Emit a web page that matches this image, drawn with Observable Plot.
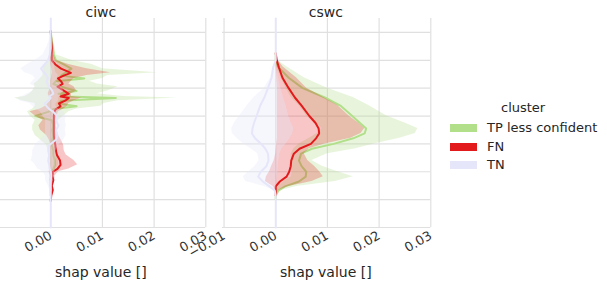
<!DOCTYPE html>
<html><head><meta charset="utf-8">
<script src="https://cdn.jsdelivr.net/npm/d3@7"></script>
<script src="https://cdn.jsdelivr.net/npm/@observablehq/plot@0.6"></script>
<style>
html,body{margin:0;padding:0;background:#fff;overflow:hidden}
#fig{position:relative;width:607px;height:283px;font-family:"DejaVu Sans",sans-serif;color:#262626;overflow:hidden}
.panel{position:absolute;top:0}
.t{position:absolute;white-space:nowrap;transform:translateX(-50%);line-height:1}
.lg{position:absolute;white-space:nowrap;line-height:1;font-size:13px}
.sw{position:absolute;width:27px;height:8px}
</style></head><body><div id="fig"></div>
<script>
// ---- categories / styling of clusters ----
const clusterNames = ["TP less confident", "FN", "TN"];
const clusterColors = ["#b2df8a", "#e31a1c", "#e6e6fa"];
const panelTitles = ["ciwc", "cswc"];
const xTicks = [-0.01, 0, 0.01, 0.02, 0.03];
const yTicks = [0, 2, 4, 6, 8, 10, 12, 14];

// ---- ciwc panel (values in units of 1e-3) ----
const ciwcLevels = [15, 14.1, 13.4, 12.9, 12.4, 12.0, 11.7, 11.4, 11.1, 10.9, 10.7, 10.5, 10.3, 10.1, 9.8, 9.6, 9.4, 9.3, 9.1, 8.9, 8.7, 8.5, 8.3, 8.0, 7.7, 7.3, 7.0, 6.6, 6.3, 5.9, 5.5, 5.2, 4.8, 4.5, 4.2, 4.0, 3.7, 3.4, 3.0, 2.7, 2.3, 1.9, 0];
const ciwcTPmed = [0, 0,0.2,0.4,0.6,1.0,2.5,4.0,2.8,2.0,6.5, 1.0,0.5,2.0,5.0,1.5,3.0,12.6,2.0,1.5,5.0, 0.5,-0.5,-3.0,0.2,0.5,0.3,0.5,0.3,0.2,0.5, 0.5,0.8,0.8,0.5,0.2,0.1,0.1,0,0,0, 0, 0];
const ciwcTPlo  = [0, 0,-0.1,-0.2,-0.2,-0.5,-1.0,-1.5,-1.5,-1.5,-2.0, -2.5,-3.2,-3.0,-3.5,-4.0,-5.0,-7.0,-5.5,-3.0,-3.0, -3.5,-4.5,-4.0,-3.0,-3.5,-3.5,-3.0,-2.0,-0.8,-0.5, -0.3,-0.2,-0.2,-0.2,-0.1,-0.1,0,0,0,0, 0, 0];
const ciwcTPhi  = [0, 0,0.5,0.8,1.0,4.0,8.0,10.0,20.7,11.0,10.0, 7.5,9.0,13.0,11.0,9.0,14.0,24.5,13.0,10.3,9.7, 5.0,3.5,2.5,1.5,1.0,0.8,0.8,1.0,1.0,1.2, 1.2,1.5,1.5,1.0,0.8,0.5,0.3,0.2,0.1,0, 0, 0];
const ciwcFNmed = [0, 0,0.1,0.2,0.2,0.2,0.9,2.0,3.9,2.5,1.4, 2.0,2.3,1.3,2.6,3.5,1.9,3.5,2.8,1.6,1.9, 1.0,0.7,0.6,0.6,0.6,0.6,0.6,0.7,0.9,1.0, 1.2,1.8,1.9,1.3,0.4,0.3,0.5,0.2,0.4,0.1, 0, 0];
const ciwcFNlo  = [0, 0,0,0,0,0,0,0.2,0.3,0.2,0.1, 0,0,0,-0.3,-0.5,-0.3,0,0,-0.5,-1.0, -2.0,-4.0,-3.0,-1.5,-2.3,-2.0,-0.8,-0.3,0,0, 0,0,0,-0.2,-0.3,-0.1,-0.2,-0.1,0,0, 0, 0];
const ciwcFNhi  = [0, 0,0.3,0.5,0.6,1.0,3.5,7.0,11.6,7.0,4.5, 4.0,3.5,4.5,5.0,4.0,4.0,6.0,4.5,3.5,3.2, 2.5,1.5,1.2,1.0,1.0,1.2,1.5,2.0,2.5,2.6, 3.0,4.5,5.2,3.5,1.5,0.8,0.8,0.5,0.5,0.2, 0, 0];
const ciwcTNmed = [0, 0,0,0,-0.2,-0.5,-1.2,-1.9,-1.2,-0.8,-0.5, -0.8,-0.6,-0.3,0.3,0.5,-0.3,0,-0.5,-1.2,-0.8, -0.3,0.5,1.2,1.0,1.5,1.0,1.3,1.0,-0.3,-0.5, -0.3,-0.5,-0.3,-0.2,0,0.1,0,0,0,0, 0, 0];
const ciwcTNlo  = [0, 0,-0.3,-0.8,-1.5,-3.0,-4.5,-5.8,-5.0,-3.5,-3.0, -3.5,-4.0,-3.0,-3.5,-4.5,-5.5,-6.5,-6.0,-4.0,-3.5, -3.0,-2.0,-1.5,-1.0,-1.0,-1.0,-1.0,-2.0,-3.0,-3.5, -3.5,-3.8,-3.0,-2.5,-1.5,-1.0,-1.0,-0.5,-0.2,0, 0, 0];
const ciwcTNhi  = [0, 0,0.2,0.3,0.5,0.5,0.8,0.8,1.0,1.5,1.2, 1.0,1.5,2.0,2.5,2.0,1.8,1.5,1.5,1.0,1.0, 1.5,2.5,3.0,2.8,3.0,2.8,3.0,2.5,1.5,1.0, 1.0,1.0,1.0,0.8,0.8,0.5,0.5,0.3,0.2,0, 0, 0];

// ---- cswc panel (values in units of 1e-3) ----
const cswcLevels = [15, 12.5, 12.0, 11.5, 10.75, 10.0, 9.33, 8.75, 8.0, 7.5, 7.1, 6.75, 6.4, 6.0, 5.65, 5.3, 4.8, 4.4, 4.0, 3.65, 3.3, 2.95, 2.65, 2.3, 2.0, 0];
const cswcTPmed = [0, 0, 0, 0.5, 2.5, 5.2, 9.5, 12.5, 14.8, 16.3, 17.5, 17.2, 15.0, 11.2, 7.0, 4.9, 4.5, 5.0, 5.9, 5.8, 4.5, 1.8, 0.5, 0, 0, 0];
const cswcTPlo  = [0, 0, 0, 0.2, 1.0, 2.0, 3.0, 4.5, 6.0, 7.5, 9.0, 8.0, 6.5, 4.5, 3.5, 3.0, 3.0, 3.0, 3.2, 3.0, 1.5, 0.5, 0.2, 0, 0, 0];
const cswcTPhi  = [0, 0, 0.3, 2.3, 5.5, 10.0, 15.0, 18.0, 21.5, 25.0, 27.5, 27.0, 24.0, 19.0, 15.5, 10.0, 7.0, 9.0, 12.0, 15.0, 11.5, 4.0, 1.0, 0.2, 0, 0];
const cswcFNmed = [0, 0, 0.2, 0.6, 1.3, 2.5, 3.7, 5.0, 6.5, 7.7, 8.3, 8.4, 7.8, 6.8, 4.6, 3.5, 3.0, 2.9, 2.6, 2.1, 0.8, 0, 0, 0, 0, 0];
const cswcFNlo  = [0, 0, 0, 0.1, 0.2, 0.3, 0.3, 0.3, 0.3, 0.3, 0.3, 0.3, 0.3, 0.2, 0.1, 0, -0.3, -0.8, -1.2, -1.8, -2.0, -0.5, 0, 0, 0, 0];
const cswcFNhi  = [0, 0, 0.4, 1.5, 4.0, 6.0, 9.3, 12.0, 14.2, 16.0, 17.2, 16.5, 14.5, 9.5, 6.5, 5.5, 6.2, 7.5, 8.5, 9.2, 7.0, 2.5, 0.5, 0, 0, 0];
const cswcTNmed = [0, 0, 0, -0.5, -0.8, -1.5, -2.2, -3.0, -3.7, -4.2, -4.5, -4.6, -4.0, -2.8, -2.0, -1.5, -1.4, -1.8, -2.9, -3.4, -2.5, -1.2, -0.2, 0, 0, 0];
const cswcTNlo  = [0, 0, 0, -0.5, -1.0, -2.2, -4.2, -5.5, -7.0, -8.0, -8.5, -8.4, -7.5, -6.2, -4.8, -3.5, -3.2, -4.0, -5.2, -6.3, -5.8, -2.2, -0.3, 0, 0, 0];
const cswcTNhi  = [0, 0, 0, 0.2, 0.5, 1.0, 1.5, 2.0, 2.5, 3.0, 3.5, 3.3, 2.8, 2.0, 1.2, 0.8, 0.6, 0.5, 0.4, 0.3, 0.2, 0.1, 0, 0, 0, 0];

function rows(levels, med, lo, hi) {
  return levels.map((y, i) => ({y, med: med[i] / 1000, lo: lo[i] / 1000, hi: hi[i] / 1000}));
}
// keep only the stretch where a cluster has non-zero values (plus one zero row each side)
function trim(data) {
  const nz = d => d && (d.med !== 0 || d.lo !== 0 || d.hi !== 0);
  return data.filter((d, i) => nz(d) || nz(data[i - 1]) || nz(data[i + 1]));
}

const panels = [
  {title: panelTitles[0], left: -3.3, ticks: xTicks.slice(1), series: [
    rows(ciwcLevels, ciwcTPmed, ciwcTPlo, ciwcTPhi),
    rows(ciwcLevels, ciwcFNmed, ciwcFNlo, ciwcFNhi),
    rows(ciwcLevels, ciwcTNmed, ciwcTNlo, ciwcTNhi)]},
  {title: panelTitles[1], left: 221.7, ticks: xTicks, series: [
    rows(cswcLevels, cswcTPmed, cswcTPlo, cswcTPhi),
    rows(cswcLevels, cswcFNmed, cswcFNlo, cswcFNhi),
    rows(cswcLevels, cswcTNmed, cswcTNlo, cswcTNhi)]}
];
const bandOpacity = [0.3, 0.25, 0.35];

const fig = document.getElementById("fig");
const W = 208.3;
panels.forEach(p => {
  const marks = [
    Plot.gridX(xTicks, {stroke: "#e0e0e0", strokeOpacity: 1, strokeWidth: 1.2}),
    Plot.gridY(yTicks, {stroke: "#e0e0e0", strokeOpacity: 1, strokeWidth: 1.2}),
    Plot.axisX(p.ticks, {tickFormat: d3.format(".2f"), tickRotate: -30, tickSize: 0, tickPadding: 7, label: null, fontSize: 13})
  ];
  p.series.forEach((data, k) => {
    const d = k < 2 ? trim(data) : data;
    marks.push(Plot.areaX(d, {y: "y", x1: "lo", x2: "hi", fill: clusterColors[k], fillOpacity: bandOpacity[k]}));
    marks.push(Plot.lineX(d, {x: "med", y: "y", stroke: clusterColors[k], strokeWidth: 2}));
  });
  const svg = Plot.plot({
    width: W, height: 283,
    marginLeft: 0, marginRight: 0, marginTop: 18, marginBottom: 56,
    x: {domain: [-0.0103, 0.030]},
    y: {domain: [0, 15], axis: null},
    style: {background: "transparent", overflow: "visible", fontFamily: "DejaVu Sans", fontSize: "13px", color: "#333"},
    marks
  });
  svg.classList.add("panel");
  svg.style.left = p.left + "px";
  fig.appendChild(svg);
  const cx = p.left + W / 2;
  const t = document.createElement("div");
  t.className = "t"; t.textContent = p.title;
  t.style.cssText = `left:${cx}px;top:5px;font-size:14px`;
  fig.appendChild(t);
  const xl = document.createElement("div");
  xl.className = "t"; xl.textContent = "shap value []";
  xl.style.cssText = `left:${cx}px;top:265px;font-size:14px`;
  fig.appendChild(xl);
});

// legend
const lt = document.createElement("div");
lt.className = "lg"; lt.textContent = "cluster";
lt.style.cssText = "left:501px;top:101px;font-size:13px";
fig.appendChild(lt);
const legY = [128, 147, 165];
clusterNames.forEach((n, i) => {
  const sw = document.createElement("div");
  sw.className = "sw";
  sw.style.cssText = `left:450px;top:${legY[i] - 4}px;background:${clusterColors[i]}`;
  fig.appendChild(sw);
  const tx = document.createElement("div");
  tx.className = "lg"; tx.textContent = n;
  tx.style.cssText = `left:487px;top:${legY[i] - 7}px`;
  fig.appendChild(tx);
});
</script></body></html>
